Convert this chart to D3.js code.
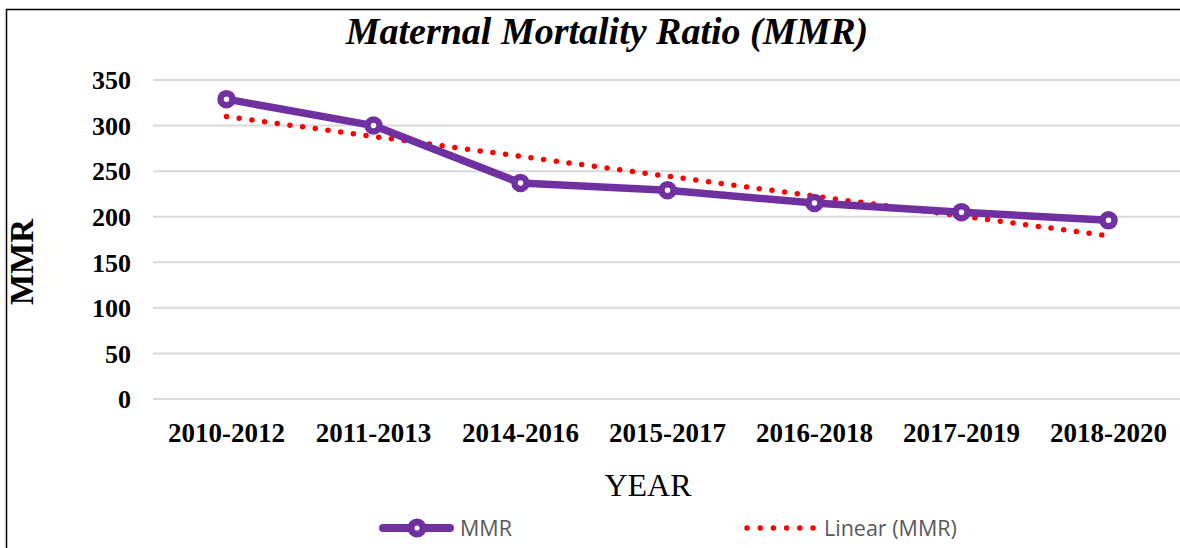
<!DOCTYPE html>
<html lang="en">
<head>
<meta charset="UTF-8">
<title>Maternal Mortality Ratio (MMR)</title>
<style>
  body { margin: 0; background: #fff; }
  svg { display: block; }
</style>
</head>
<body>
<script src="https://cdn.jsdelivr.net/npm/d3@7/dist/d3.min.js"></script>
<script>
// data
var years = ["2010-2012", "2011-2013", "2014-2016", "2015-2017", "2016-2018", "2017-2019", "2018-2020"];
var mmr = [329, 300, 237, 229, 215, 205, 196];
var yTicks = [0, 50, 100, 150, 200, 250, 300, 350];

var width = 1180, height = 548;
var serif = "'Liberation Serif', 'Times New Roman', serif";
var svg = d3.select("body").append("svg")
    .attr("width", width)
    .attr("height", height);

// frame (runs off right / bottom like the source)
svg.append("rect")
    .attr("x", 6.5).attr("y", 9.5)
    .attr("width", width).attr("height", height)
    .attr("fill", "none")
    .attr("stroke", "#000")
    .attr("stroke-width", 1.5);

var x = d3.scaleBand()
    .domain(years)
    .range([153, 1182]);

var y = d3.scaleLinear()
    .domain([0, 350])
    .range([399, 80]);

// grid
svg.append("g").selectAll("line")
    .data(yTicks)
    .enter().append("line")
    .attr("x1", 153).attr("x2", width)
    .attr("y1", function(d){ return y(d); })
    .attr("y2", function(d){ return y(d); })
    .attr("stroke", "#d9d9d9")
    .attr("stroke-width", 2);

// y axis labels
var yAxis = d3.axisLeft(y).tickValues(yTicks).tickSize(0).tickPadding(0);
var gy = svg.append("g")
    .attr("transform", "translate(131,0)")
    .call(yAxis);
gy.select(".domain").remove();
gy.selectAll("text")
    .attr("dy", "0.34em")
    .style("font-family", serif)
    .style("font-weight", "bold")
    .style("font-size", "26px")
    .attr("fill", "#000");

// x axis labels
var xAxis = d3.axisBottom(x).tickSize(0).tickPadding(0);
var gx = svg.append("g")
    .attr("transform", "translate(0,442)")
    .call(xAxis);
gx.select(".domain").remove();
gx.selectAll("text")
    .attr("y", 0)
    .attr("dy", "0")
    .style("font-family", serif)
    .style("font-weight", "bold")
    .style("font-size", "27px")
    .attr("fill", "#000");

// linear trend (least squares over category index)
var n = mmr.length;
var mx = d3.mean(d3.range(n)), my = d3.mean(mmr);
var sxy = d3.sum(mmr, function(v, i){ return (i - mx) * (v - my); });
var sxx = d3.sum(d3.range(n), function(i){ return (i - mx) * (i - mx); });
var slope = sxy / sxx, icpt = my - slope * mx;
var cx = function(i){ return x(years[i]) + x.bandwidth() / 2; };

svg.append("line")
    .attr("x1", cx(0)).attr("y1", y(icpt))
    .attr("x2", cx(n - 1)).attr("y2", y(icpt + slope * (n - 1)))
    .attr("stroke", "#ff0000")
    .attr("stroke-width", 5.5)
    .attr("stroke-linecap", "round")
    .attr("stroke-dasharray", "0 12.8");

// MMR line
var line = d3.line()
    .x(function(d, i){ return cx(i); })
    .y(function(d){ return y(d); });

svg.append("path")
    .datum(mmr)
    .attr("d", line)
    .attr("fill", "none")
    .attr("stroke", "#7030a0")
    .attr("stroke-width", 7.5)
    .attr("stroke-linejoin", "round");

svg.append("g").selectAll("circle")
    .data(mmr)
    .enter().append("circle")
    .attr("cx", function(d, i){ return cx(i); })
    .attr("cy", function(d){ return y(d); })
    .attr("r", 6)
    .attr("fill", "#fff")
    .attr("stroke", "#7030a0")
    .attr("stroke-width", 6.5);

// title & axis titles
svg.append("text")
    .attr("x", 607).attr("y", 44)
    .attr("text-anchor", "middle")
    .style("font-family", serif)
    .style("font-weight", "bold")
    .style("font-style", "italic")
    .style("font-size", "38px")
    .text("Maternal Mortality Ratio (MMR)");

svg.append("text")
    .attr("x", 648).attr("y", 496)
    .attr("text-anchor", "middle")
    .style("font-family", serif)
    .style("font-size", "32px")
    .text("YEAR");

svg.append("text")
    .attr("transform", "translate(33,262) rotate(-90)")
    .attr("text-anchor", "middle")
    .style("font-family", serif)
    .style("font-weight", "bold")
    .style("font-size", "33px")
    .text("MMR");

// legend
var lg = svg.append("g");
lg.append("line")
    .attr("x1", 383).attr("x2", 450).attr("y1", 528).attr("y2", 528)
    .attr("stroke", "#7030a0").attr("stroke-width", 8).attr("stroke-linecap", "round");
lg.append("circle")
    .attr("cx", 417).attr("cy", 528).attr("r", 6)
    .attr("fill", "#fff").attr("stroke", "#7030a0").attr("stroke-width", 7);
lg.append("text")
    .attr("x", 460).attr("y", 536)
    .style("font-family", "'Open Sans', sans-serif")
    .style("font-size", "21.5px")
    .attr("fill", "#595959")
    .text("MMR");
lg.append("line")
    .attr("x1", 747).attr("x2", 814).attr("y1", 528).attr("y2", 528)
    .attr("stroke", "#ff0000").attr("stroke-width", 5.5)
    .attr("stroke-linecap", "round").attr("stroke-dasharray", "0 13.2");
lg.append("text")
    .attr("x", 824).attr("y", 536)
    .style("font-family", "'Open Sans', sans-serif")
    .style("font-size", "21.5px")
    .attr("fill", "#595959")
    .text("Linear (MMR)");
</script>
</body>
</html>
